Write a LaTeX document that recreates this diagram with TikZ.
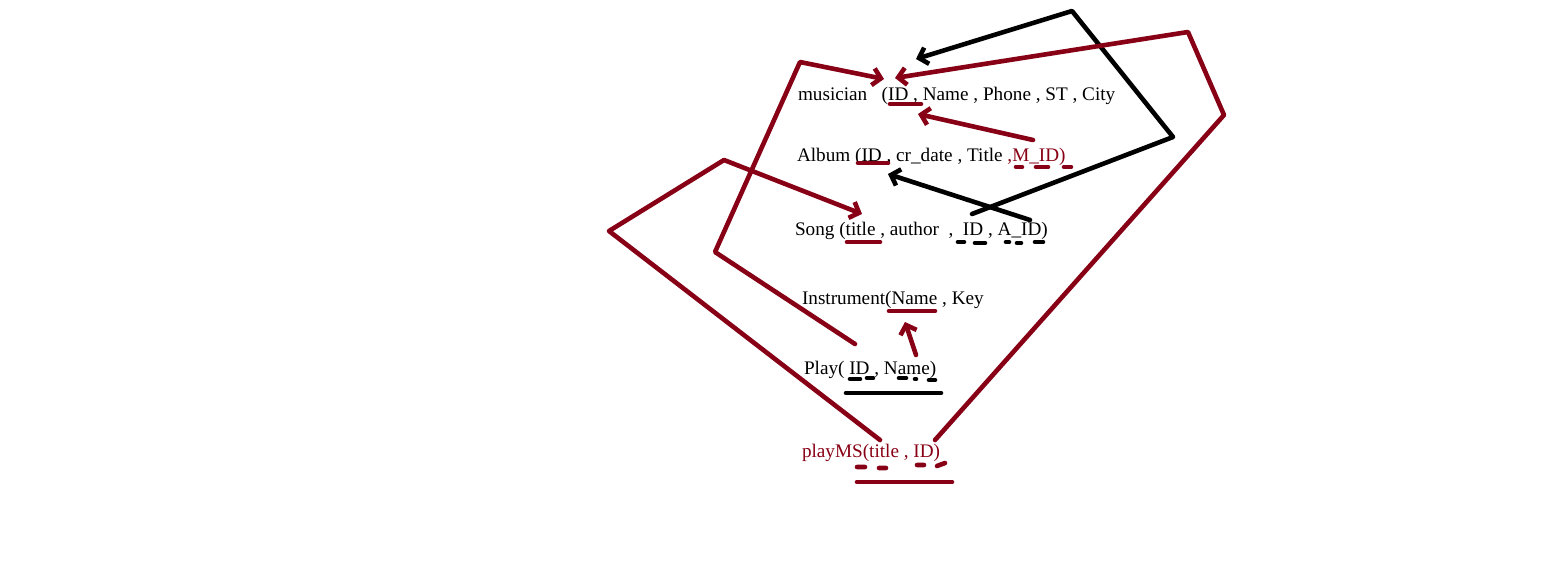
\documentclass[tikz,border=0pt]{standalone}
\usepackage{fontspec}
\setmainfont{Liberation Serif}
\usetikzlibrary{arrows.meta}
\definecolor{pred}{RGB}{136,0,21}
\begin{document}
\begin{tikzpicture}[x=1pt,y=-1pt,
  txt/.style={inner sep=0pt, outer sep=0pt, anchor=base west, font=\fontsize{19.2}{22}\selectfont},
  link/.style={line width=4.6pt, line join=round, line cap=round},
  tipped/.style={-{Straight Barb[length=8pt,width=17pt]}},
  ul/.style={line width=4.6pt, line cap=round},
  redc/.style={draw=pred},
  blackc/.style={draw=black}]
\useasboundingbox[fill=white] (0,0) rectangle (1568,576);

% ---- relation texts ----
\node[txt] (mus) at (798,100) {musician\ \ \ (};
\node[txt] (musID) at (mus.base east) {ID};
\node[txt] (musRest) at (musID.base east) {\ , Name , Phone , ST , City};

\node[txt] (alb) at (797,161) {Album (};
\node[txt] (albID) at (alb.base east) {ID};
\node[txt] (albRest) at (albID.base east) {\ , cr\_date , Title\ \null};
\node[txt,text=pred] (albMID) at (albRest.base east) {,M\_ID)};

\node[txt] (song) at (795,235) {Song (};
\node[txt] (sTitle) at (song.base east) {title};
\node[txt] (sMid) at (sTitle.base east) {\ , author\ \ ,\ \ \null};
\node[txt] (sID) at (sMid.base east) {ID};
\node[txt] (sSep) at (sID.base east) {\ ,\ \null};
\node[txt] (sAID) at (sSep.base east) {A\_ID};
\node[txt] (sEnd) at (sAID.base east) {)};

\node[txt] (ins) at (802,304) {Instrument(};
\node[txt] (iName) at (ins.base east) {Name};
\node[txt] (iRest) at (iName.base east) {\ , Key};

\node[txt] (play) at (804,374) {Play(\ \null};
\node[txt] (pID) at (play.base east) {ID};
\node[txt] (pSep) at (pID.base east) {\ ,\ \null};
\node[txt] (pName) at (pSep.base east) {Name};
\node[txt] (pEnd) at (pName.base east) {)};

\node[txt,text=pred] (pms) at (802,457) {playMS(};
\node[txt,text=pred] (pmTitle) at (pms.base east) {title};
\node[txt,text=pred] (pmSep) at (pmTitle.base east) {\ ,\ \null};
\node[txt,text=pred] (pmID) at (pmSep.base east) {ID};
\node[txt,text=pred] (pmEnd) at (pmID.base east) {)};

% ---- key underlines ----
\draw[ul,redc] (890,104) -- (921,104);
\draw[ul,redc] (858,163) -- (888,163);
\draw[ul,redc] (1016,167) -- (1022,167) (1036,167) -- (1048,167) (1064,167) -- (1071,167);
\draw[ul,redc] (847,242) -- (880,242);
\draw[ul,blackc] (958,242) -- (964,242) (975,243) -- (985,243) (1006,242) -- (1009,242) (1017,243) -- (1021,243) (1035,242) -- (1043,242);
\draw[ul,redc] (889,311) -- (935,311);
\draw[ul,blackc] (850,379) -- (860,379) (867,378) -- (873,378) (899,378) -- (906,378) (915,379) -- (916,379) (929,380) -- (935,380);
\draw[ul,blackc] (846,393) -- (941,393);
\draw[ul,redc] (857,467) -- (865,467) (879,468) -- (886,468) (917,465) -- (924,465) (937,466) -- (945,463);
\draw[ul,redc] (857,482) -- (952,482);

% ---- connector points ----
\coordinate (a1s) at (972,214);
\coordinate (a1b) at (1173,137);
\coordinate (a1c) at (1072,11);
\coordinate (a1t) at (916,59);

\coordinate (a2s) at (1030,220);
\coordinate (a2t) at (888,174);

\coordinate (a3s) at (855,344);
\coordinate (a3b) at (715,252);
\coordinate (a3c) at (800,62);
\coordinate (a3t) at (884,79);

\coordinate (a4s) at (935,440);
\coordinate (a4b) at (1224,115);
\coordinate (a4c) at (1188,32);
\coordinate (a4t) at (895,78);

\coordinate (a5s) at (1033,140);
\coordinate (a5t) at (918,114);

\coordinate (a6s) at (880,440);
\coordinate (a6b) at (609,231);
\coordinate (a6c) at (724,160);
\coordinate (a6t) at (862,214);

\coordinate (a7s) at (916,355);
\coordinate (a7t) at (905,322);

% ---- connectors ----
\draw[link,blackc,tipped] (a1s) -- (a1b) -- (a1c) -- (a1t);
\draw[link,blackc,tipped] (a2s) -- (a2t);
\draw[link,redc,tipped] (a3s) -- (a3b) -- (a3c) -- (a3t);
\draw[link,redc,tipped] (a4s) -- (a4b) -- (a4c) -- (a4t);
\draw[link,redc,tipped] (a5s) -- (a5t);
\draw[link,redc,tipped] (a6s) -- (a6b) -- (a6c) -- (a6t);
\draw[link,redc,tipped] (a7s) -- (a7t);
\end{tikzpicture}
\end{document}
